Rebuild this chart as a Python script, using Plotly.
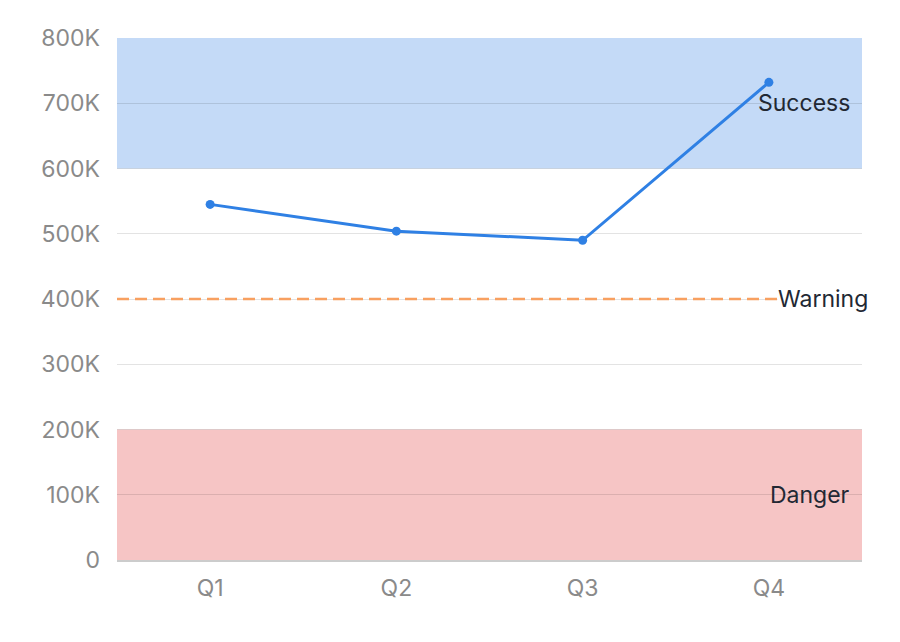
import plotly.graph_objects as go

quarters = ["Q1", "Q2", "Q3", "Q4"]
values = [545000, 504000, 490000, 732000]
tick_vals = [0, 100000, 200000, 300000, 400000, 500000, 600000, 700000, 800000]
tick_text = ["0", "100K", "200K", "300K", "400K", "500K", "600K", "700K", "800K"]
success_band = [600000, 800000]
danger_band = [0, 200000]
warning_level = 400000

# page has an 8px body offset; plot area target: x 117-862, y 38-560 in the screenshot
PL, PR, PT, PB = 109, 854, 30, 552
W, H = 900, 642
pw = PR - PL

fig = go.Figure()
fig.add_trace(go.Scatter(
    x=quarters, y=values, mode="lines+markers",
    line=dict(color="#2f80e4", width=3),
    marker=dict(color="#2f80e4", size=9),
    showlegend=False, hoverinfo="skip",
))

fig.add_shape(type="rect", xref="paper", yref="y", x0=0, x1=1,
              y0=success_band[0], y1=success_band[1],
              fillcolor="#c4daf7", line=dict(width=0), layer="below")
fig.add_shape(type="rect", xref="paper", yref="y", x0=0, x1=1,
              y0=danger_band[0], y1=danger_band[1],
              fillcolor="#f6c5c5", line=dict(width=0), layer="below")
fig.add_shape(type="line", xref="paper", yref="y", x0=0, x1=1,
              y0=warning_level, y1=warning_level,
              line=dict(color="#f8a060", width=2.5, dash="12px,6px"), layer="above")

fig.add_annotation(xref="paper", yref="y", x=1 - 10 / pw, y=700000,
                   text="Success", showarrow=False, xanchor="right", yanchor="middle",
                   font=dict(size=23, color="#222833"))
fig.add_annotation(xref="paper", yref="y", x=1 - 10 / pw, y=100000,
                   text="Danger", showarrow=False, xanchor="right", yanchor="middle",
                   font=dict(size=23, color="#222833"))
fig.add_annotation(xref="paper", yref="y", x=(777 - 117) / pw, y=warning_level,
                   text="Warning", showarrow=False, xanchor="left", yanchor="middle",
                   bgcolor="white", borderpad=0,
                   font=dict(size=23, color="#222833"))

fig.update_layout(
    width=W, height=H,
    margin=dict(l=PL, r=W - PR, t=PT, b=H - PB),
    plot_bgcolor="white", paper_bgcolor="white",
    font=dict(family="Inter, Roboto, sans-serif"),
    xaxis=dict(range=[-0.5, 3.5], showgrid=False, showline=True,
               linecolor="#cccccc", linewidth=1.5, ticks="",
               tickfont=dict(size=23, color="#8a8a8a"), ticklabelstandoff=7,
               fixedrange=True),
    yaxis=dict(range=[0, 800000], tickvals=tick_vals, ticktext=tick_text,
               showgrid=True, gridcolor="rgba(0,0,0,0.11)", gridwidth=1,
               zeroline=False, showline=False,
               tickfont=dict(size=23, color="#8a8a8a"), ticklabelstandoff=16,
               fixedrange=True),
)

fig.write_html("out.html")
